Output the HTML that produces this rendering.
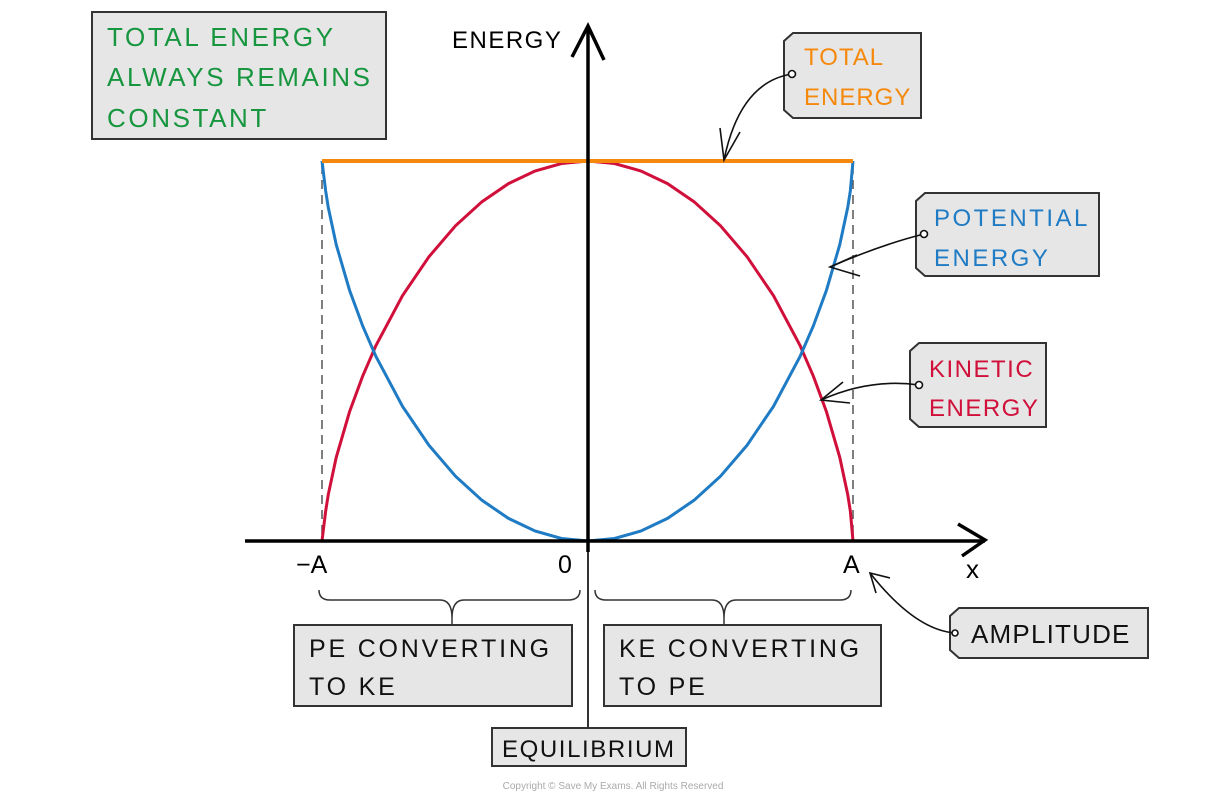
<!DOCTYPE html>
<html><head><meta charset="utf-8"><style>
html,body{margin:0;padding:0;background:#fff;}
svg{display:block;}
text{font-family:"Liberation Sans",sans-serif;}
</style></head><body>
<svg width="1226" height="800" viewBox="0 0 1226 800" xmlns="http://www.w3.org/2000/svg">
<rect width="1226" height="800" fill="#fff"/>
<!-- top-left box -->
<rect x="92" y="12" width="294" height="127" fill="#e6e6e6" stroke="#333" stroke-width="2"/>
<text font-size="26" fill="#17963f" letter-spacing="2.6">
<tspan x="107" y="46">TOTAL ENERGY</tspan>
<tspan x="107" y="86">ALWAYS REMAINS</tspan>
<tspan x="107" y="127">CONSTANT</tspan></text>
<!-- dashed verticals -->
<line x1="322" y1="165" x2="322" y2="541" stroke="#555" stroke-width="1.5" stroke-dasharray="9,6"/>
<line x1="853" y1="165" x2="853" y2="541" stroke="#555" stroke-width="1.5" stroke-dasharray="9,6"/>
<!-- curves -->
<polyline fill="none" stroke="#d0103a" stroke-width="3" points="322,541 325.65,511.2 328.3,494.4 336.25,457.3 349.5,411.9 362.75,375.9 376,345.4 402.5,295.7 429,256.7 455.5,225.8 482,201.7 508.5,183.6 535,171 561.5,163.5 588,161 614.5,163.5 641,171 667.5,183.6 694,201.7 720.5,225.8 747,256.7 773.5,295.7 800,345.4 813.25,375.9 826.5,411.9 839.75,457.3 847.7,494.4 850.35,511.2 853,541"/>
<polyline fill="none" stroke="#1f7bc4" stroke-width="3" points="322,161 325.65,190.8 328.3,207.6 336.25,244.7 349.5,290.1 362.75,326.1 376,356.6 402.5,406.3 429,445.3 455.5,476.2 482,500.3 508.5,518.4 535,531 561.5,538.5 588,541 614.5,538.5 641,531 667.5,518.4 694,500.3 720.5,476.2 747,445.3 773.5,406.3 800,356.6 813.25,326.1 826.5,290.1 839.75,244.7 847.7,207.6 850.35,190.8 853,161"/>
<line x1="322" y1="161" x2="853" y2="161" stroke="#f5890d" stroke-width="4"/>
<!-- axes -->
<line x1="588" y1="30" x2="588" y2="552" stroke="#000" stroke-width="3.5"/>
<line x1="588" y1="552" x2="588" y2="730" stroke="#333" stroke-width="2"/>
<path d="M572,57 L588,26 L604,60" fill="none" stroke="#000" stroke-width="3.5"/>
<line x1="245" y1="541" x2="985" y2="541" stroke="#000" stroke-width="3.5"/>
<path d="M958,524 L985,540 L962,556" fill="none" stroke="#000" stroke-width="3.5"/>
<text x="452" y="48" font-size="24" fill="#000" letter-spacing="1.5">ENERGY</text>
<text x="296" y="573" font-size="25" fill="#000">−A</text>
<text x="558" y="573" font-size="25" fill="#000">0</text>
<text x="843" y="573" font-size="25" fill="#000">A</text>
<text x="966" y="578" font-size="26" fill="#000">x</text>
<!-- braces -->
<path d="M319,590 Q319,600 330,600 L440,600 Q452,600 452,618 Q452,600 464,600 L568,600 Q580,600 580,590" fill="none" stroke="#333" stroke-width="1.5"/>
<path d="M595,590 Q595,600 606,600 L712,600 Q724,600 724,618 Q724,600 736,600 L840,600 Q851,600 851,590" fill="none" stroke="#333" stroke-width="1.5"/>
<line x1="452" y1="618" x2="452" y2="625" stroke="#333" stroke-width="1.5"/>
<line x1="724" y1="618" x2="724" y2="625" stroke="#333" stroke-width="1.5"/>
<!-- bottom boxes -->
<rect x="294" y="625" width="278" height="81" fill="#e6e6e6" stroke="#333" stroke-width="2"/>
<text font-size="25" fill="#111" letter-spacing="2.8"><tspan x="309" y="657">PE CONVERTING</tspan><tspan x="309" y="695">TO KE</tspan></text>
<rect x="604" y="625" width="277" height="81" fill="#e6e6e6" stroke="#333" stroke-width="2"/>
<text font-size="25" fill="#111" letter-spacing="2.8"><tspan x="619" y="657">KE CONVERTING</tspan><tspan x="619" y="695">TO PE</tspan></text>
<rect x="492" y="728" width="194" height="38" fill="#e6e6e6" stroke="#333" stroke-width="2"/>
<text x="502" y="757" font-size="24" fill="#111" letter-spacing="1.6">EQUILIBRIUM</text>
<!-- tag boxes -->
<path d="M793,33 L921,33 L921,118 L793,118 L784,110 L784,41 Z" fill="#e6e6e6" stroke="#333" stroke-width="2"/>
<text font-size="24" fill="#f5890d" letter-spacing="1"><tspan x="804" y="65">TOTAL</tspan><tspan x="804" y="105">ENERGY</tspan></text>
<path d="M925,193 L1099,193 L1099,276 L925,276 L916,268 L916,201 Z" fill="#e6e6e6" stroke="#333" stroke-width="2"/>
<text font-size="24" fill="#1f7bc4" letter-spacing="2.5"><tspan x="934" y="226">POTENTIAL</tspan><tspan x="934" y="266">ENERGY</tspan></text>
<path d="M919,343 L1046,343 L1046,427 L919,427 L910,419 L910,351 Z" fill="#e6e6e6" stroke="#333" stroke-width="2"/>
<text font-size="24" fill="#d0103a" letter-spacing="1.5"><tspan x="929" y="377">KINETIC</tspan><tspan x="929" y="416">ENERGY</tspan></text>
<path d="M959,608 L1148,608 L1148,658 L959,658 L950,650 L950,616 Z" fill="#e6e6e6" stroke="#333" stroke-width="2"/>
<text x="971" y="643" font-size="26" fill="#111" letter-spacing="1.2">AMPLITUDE</text>
<!-- arrows -->
<g fill="none" stroke="#111" stroke-width="1.6">
<path d="M792,74 Q740,82 724,160"/><path d="M720,128 L724,160 L740,132"/>
<circle cx="792" cy="74" r="3.5" fill="#fff"/>
<path d="M924,234 Q880,245 830,267"/><path d="M857,255 L830,267 L860,276"/>
<circle cx="924" cy="234" r="3.5" fill="#fff"/>
<path d="M919,385 Q870,378 821,400"/><path d="M843,382 L821,400 L850,403"/>
<circle cx="919" cy="385" r="3.5" fill="#fff"/>
<path d="M955,633 Q915,630 870,573"/><path d="M876,593 L870,573 L890,578"/>
<circle cx="955" cy="633" r="3" fill="#fff"/>
</g>
<text x="613" y="789" font-size="10" fill="#aaa" text-anchor="middle">Copyright © Save My Exams. All Rights Reserved</text>
</svg>
</body></html>
